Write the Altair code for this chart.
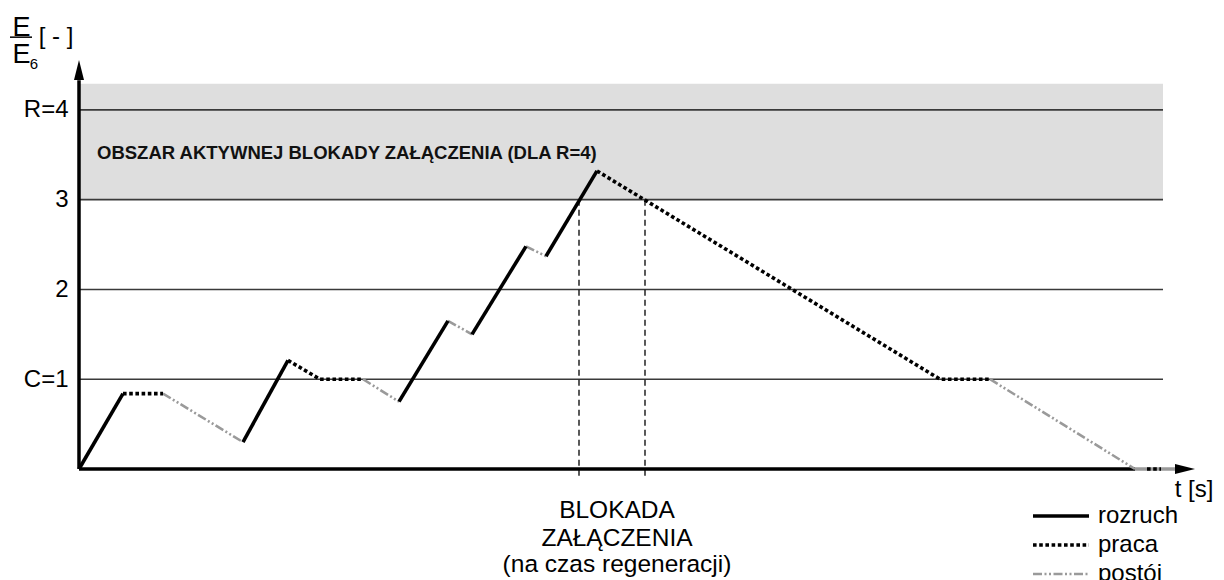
import altair as alt
import pandas as pd

# ---------------- data ----------------
# rozruch (start-up) segments
rozruch_seg = [0, 0, 1, 1, 2, 2, 3, 3, 4, 4]
rozruch_t = [0, 4.4, 16.4, 20.9, 32.0, 36.9, 39.3, 44.7, 46.7, 51.8]
rozruch_e = [0, 0.84, 0.30, 1.21, 0.75, 1.65, 1.50, 2.48, 2.37, 3.32]

# praca (work) segments
praca_seg = [0, 0, 1, 1, 1, 2, 2, 2, 3, 3]
praca_t = [4.4, 8.4, 20.9, 24.1, 28.4, 51.8, 86.1, 91.1, 106.8, 108.2]
praca_e = [0.84, 0.84, 1.21, 1.0, 1.0, 3.32, 1.0, 1.0, 0, 0]

# postój (idle) segments
postoj_seg = [0, 0, 1, 1, 2, 2, 3, 3, 4, 4]
postoj_t = [8.4, 16.4, 28.4, 32.0, 36.9, 39.3, 44.7, 46.7, 91.1, 105.6]
postoj_e = [0.84, 0.30, 1.0, 0.75, 1.65, 1.50, 2.48, 2.37, 1.0, 0]
tail_t = [105.6, 109.6]

grid_values = [1, 2, 3, 4]
grid_end = 108.4
band_low, band_high = 3, 4.29
block_t = [50.0, 56.6]

axis_x_end = 105.6
axis_y_end = 4.33

label_font = "Liberation Sans"

# ---------------- scales ----------------
xs = alt.Scale(domain=[0, 112], nice=False, zero=False)
ys = alt.Scale(domain=[0, 4.5], nice=False, zero=False)
yaxis = alt.Axis(values=grid_values,
                 labelExpr="datum.value == 1 ? 'C=1' : (datum.value == 4 ? 'R=4' : datum.label)",
                 domain=False, ticks=False, grid=False, labelFontSize=24,
                 labelFont=label_font, labelColor="black", labelPadding=11, title=None)


def X(f):
    return alt.X(f, type="quantitative", scale=xs, axis=None)


def Y(f):
    return alt.Y(f, type="quantitative", scale=ys, axis=yaxis)


# ---------------- layers ----------------
band = alt.Chart(pd.DataFrame({"t": [0], "t2": [grid_end], "e": [band_low], "e2": [band_high]})).mark_rect(
    color="#dedede").encode(x=X("t"), x2="t2", y=Y("e"), y2="e2")

grid = alt.Chart(pd.DataFrame({"e": grid_values, "t": [0] * 4, "t2": [grid_end] * 4})).mark_rule(
    color="#3a3a3a", strokeWidth=1.6).encode(x=X("t"), x2="t2", y=Y("e"))

block = alt.Chart(pd.DataFrame({"t": block_t, "e": [3, 3], "e2": [-0.12, -0.12]})).mark_rule(
    color="black", strokeWidth=1.3, strokeDash=[6, 4]).encode(x=X("t"), y=Y("e"), y2="e2")

x_axis_line = alt.Chart(pd.DataFrame({"t": [0], "t2": [axis_x_end], "e": [0]})).mark_rule(
    color="black", strokeWidth=3.5).encode(x=X("t"), x2="t2", y=Y("e"))
y_axis_line = alt.Chart(pd.DataFrame({"t": [0], "e": [0], "e2": [axis_y_end]})).mark_rule(
    color="black", strokeWidth=3.5).encode(x=X("t"), y=Y("e"), y2="e2")

tail = alt.Chart(pd.DataFrame({"t": [tail_t[0]], "t2": [tail_t[1]], "e": [0]})).mark_rule(
    color="#9a9a9a", strokeWidth=3.5).encode(x=X("t"), x2="t2", y=Y("e"))

arrow_up = alt.Chart(pd.DataFrame({"t": [0], "e": [4.443]})).mark_point(
    shape="M0,-1L0.5,1L-0.5,1Z", size=400, filled=True, color="black", opacity=1,
    strokeWidth=0).encode(x=X("t"), y=Y("e"))
arrow_right = alt.Chart(pd.DataFrame({"t": [110.6], "e": [0]})).mark_point(
    shape="M1,0L-1,-0.5L-1,0.5Z", size=400, filled=True, color="black", opacity=1,
    strokeWidth=0).encode(x=X("t"), y=Y("e"))

postoj = alt.Chart(pd.DataFrame({"t": postoj_t, "e": postoj_e, "s": postoj_seg})).mark_line(
    color="#9a9a9a", strokeWidth=2.6, strokeDash=[9, 2.5, 2, 2.5, 2, 2.5], strokeCap="butt").encode(
    x=X("t"), y=Y("e"), detail="s:N")

praca = alt.Chart(pd.DataFrame({"t": praca_t, "e": praca_e, "s": praca_seg})).mark_line(
    color="black", strokeWidth=3.6, strokeDash=[3.6, 2.6], strokeCap="butt").encode(
    x=X("t"), y=Y("e"), detail="s:N")

rozruch = alt.Chart(pd.DataFrame({"t": rozruch_t, "e": rozruch_e, "s": rozruch_seg})).mark_line(
    color="black", strokeWidth=3.6, strokeCap="butt").encode(
    x=X("t"), y=Y("e"), detail="s:N")

# texts
zone_text = alt.Chart(pd.DataFrame({"t": [1.8], "e": [3.52],
                                    "txt": ["OBSZAR AKTYWNEJ BLOKADY ZAŁĄCZENIA (DLA R=4)"]})).mark_text(
    font=label_font, fontSize=18.5, fontWeight="bold", align="left", baseline="middle",
    color="#111").encode(x=X("t"), y=Y("e"), text="txt:N")

bottom_lines = ["BLOKADA", "ZAŁĄCZENIA", "(na czas regeneracji)"]
bottom_text = alt.Chart(pd.DataFrame({"t": [53.8] * 3, "e": [-0.468, -0.778, -1.066],
                                      "txt": bottom_lines})).mark_text(
    font=label_font, fontSize=24.5, align="center", baseline="middle", color="black").encode(
    x=X("t"), y=Y("e"), text="txt:N")

t_label = alt.Chart(pd.DataFrame({"t": [111.5], "e": [-0.234], "txt": ["t [s]"]})).mark_text(
    font=label_font, fontSize=24, align="center", baseline="middle", color="black").encode(
    x=X("t"), y=Y("e"), text="txt:N")

# y title as a fraction E / E6 [-]
ytitle_big = alt.Chart(pd.DataFrame({"t": [-5.75, -5.75], "e": [4.917, 4.611],
                                     "txt": ["E", "E"]})).mark_text(
    font=label_font, fontSize=27, align="center", baseline="middle", color="black").encode(
    x=X("t"), y=Y("e"), text="txt:N")
ytitle_unit = alt.Chart(pd.DataFrame({"t": [-2.3], "e": [4.81], "txt": ["[ - ]"]})).mark_text(
    font=label_font, fontSize=24, align="center", baseline="middle", color="black").encode(
    x=X("t"), y=Y("e"), text="txt:N")
ytitle_sub = alt.Chart(pd.DataFrame({"t": [-4.5], "e": [4.515], "txt": ["6"]})).mark_text(
    font=label_font, fontSize=15, align="center", baseline="middle", color="black").encode(
    x=X("t"), y=Y("e"), text="txt:N")
ytitle_bar = alt.Chart(pd.DataFrame({"t": [-6.9], "t2": [-4.7], "e": [4.81]})).mark_rule(
    color="black", strokeWidth=1.5).encode(x=X("t"), x2="t2", y=Y("e"))

# legend
legend_names = ["rozruch", "praca", "postój"]
legend_e = [-0.523, -0.846, -1.17]
leg_line_t = [95.4, 101.0]
leg_text_t = 101.9

leg_r = alt.Chart(pd.DataFrame({"t": [leg_line_t[0]], "t2": [leg_line_t[1]], "e": [legend_e[0]]})).mark_rule(
    color="black", strokeWidth=3.6).encode(x=X("t"), x2="t2", y=Y("e"))
leg_p = alt.Chart(pd.DataFrame({"t": [leg_line_t[0]], "t2": [leg_line_t[1]], "e": [legend_e[1]]})).mark_rule(
    color="black", strokeWidth=3.6, strokeDash=[3.6, 2.6]).encode(x=X("t"), x2="t2", y=Y("e"))
leg_s = alt.Chart(pd.DataFrame({"t": [leg_line_t[0]], "t2": [leg_line_t[1]], "e": [legend_e[2]]})).mark_rule(
    color="#9a9a9a", strokeWidth=2.6, strokeDash=[9, 2.5, 2, 2.5, 2, 2.5]).encode(x=X("t"), x2="t2", y=Y("e"))
leg_text = alt.Chart(pd.DataFrame({"t": [leg_text_t] * 3, "e": legend_e, "txt": legend_names})).mark_text(
    font=label_font, fontSize=24, align="left", baseline="middle", color="black").encode(
    x=X("t"), y=Y("e"), text="txt:N")

chart = alt.layer(
    band, grid, block, x_axis_line, y_axis_line, tail, arrow_up, arrow_right,
    postoj, praca, rozruch, zone_text, bottom_text, t_label,
    ytitle_big, ytitle_unit, ytitle_sub, ytitle_bar, leg_r, leg_p, leg_s, leg_text
).properties(
    width=1120, height=404,
    autosize=alt.AutoSizeParams(type="none"),
    padding={"left": 71, "top": 57, "right": 17, "bottom": 111},
    background="white",
).configure_view(stroke=None)

chart.save("out.html", embed_options={"renderer": "svg", "actions": False})
